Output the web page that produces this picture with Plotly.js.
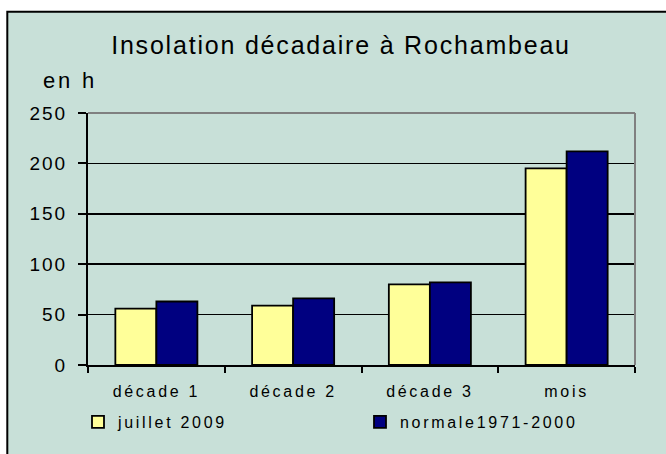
<!DOCTYPE html>
<html>
<head>
<meta charset="utf-8">
<script src="https://cdn.plot.ly/plotly-3.0.1.min.js"></script>
<style>
  html, body { margin: 0; padding: 0; background: #ffffff; }
  #chart { width: 666px; height: 454px; }
  text { letter-spacing: 2.7px; }
  text.gtitle { letter-spacing: 1.8px; }
  text.annotation-text { letter-spacing: 2.8px; }
  .ytick text { letter-spacing: 2px; }
</style>
</head>
<body>
<div id="chart"></div>
<script>
const categories = ["décade 1", "décade 2", "décade 3", "mois"];
const juillet2009 = [56, 59, 80, 195];
const normale = [63, 66, 82, 212];
const seriesNames = ["juillet 2009", "normale1971-2000"];
const yTicks = [0, 50, 100, 150, 200, 250];

const bg = "rgb(200,224,216)";
const font = "Liberation Sans, Arial, sans-serif";

const traces = [
  {
    type: "bar", name: seriesNames[0], x: categories, y: juillet2009,
    legend: "legend",
    marker: { color: "#FFFF99", line: { color: "#000000", width: 1.8 } }
  },
  {
    type: "bar", name: seriesNames[1], x: categories, y: normale,
    legend: "legend2",
    marker: { color: "#000080", line: { color: "#000000", width: 1.8 } }
  }
];

const legendCommon = {
  orientation: "h",
  xanchor: "left",
  yref: "container", y: 0.108, yanchor: "top",
  bgcolor: "rgba(0,0,0,0)",
  font: { family: font, size: 16, color: "#000000" },
  itemclick: false, itemdoubleclick: false
};

const layout = {
  width: 666, height: 454,
  margin: { l: 88, r: 31, t: 113, b: 89, pad: 0 },
  paper_bgcolor: "#ffffff",
  plot_bgcolor: bg,
  font: { family: font, color: "#000000", size: 16 },
  title: {
    text: "Insolation décadaire à Rochambeau",
    font: { family: font, size: 25, color: "#000000" },
    xref: "container", x: 341 / 666, xanchor: "center",
    yref: "container", y: 0.8996, yanchor: "middle"
  },
  barmode: "group",
  bargap: 0.4,
  bargroupgap: 0,
  xaxis: {
    type: "category",
    showline: true, linecolor: "#000000", linewidth: 2,
    ticks: "outside", tickson: "boundaries", ticklen: 6, tickwidth: 2, tickcolor: "#000000",
    ticklabelstandoff: 11,
    tickfont: { family: font, size: 16, color: "#000000" },
    showgrid: false, zeroline: false, fixedrange: true
  },
  yaxis: {
    range: [0, 250],
    tickvals: yTicks,
    showline: true, linecolor: "#000000", linewidth: 2,
    ticks: "outside", ticklen: 8, tickwidth: 2, tickcolor: "#000000",
    ticklabelstandoff: 7,
    tickfont: { family: font, size: 19, color: "#000000" },
    showgrid: true, gridcolor: "#000000", gridwidth: 1.5,
    zeroline: false, fixedrange: true
  },
  showlegend: true,
  legend: Object.assign({}, legendCommon, { xref: "container", x: 78 / 666 }),
  legend2: Object.assign({}, legendCommon, { xref: "container", x: 360 / 666 }),
  annotations: [
    {
      text: "en h", showarrow: false,
      xref: "paper", x: (41 - 88) / 547, xanchor: "left",
      yref: "paper", y: (365 - 80) / 252, yanchor: "middle",
      font: { family: font, size: 22, color: "#000000" }
    }
  ],
  shapes: [
    {
      type: "rect", layer: "below", xref: "paper", yref: "paper",
      x0: (7.3 - 88) / 547, x1: (720 - 88) / 547,
      y0: (365 - 500) / 252, y1: (365 - 11.7) / 252,
      fillcolor: bg, line: { color: "#000000", width: 2 }
    },
    {
      type: "line", layer: "above", xref: "paper", yref: "paper",
      x0: 0, x1: 1, y0: 1, y1: 1,
      line: { color: "#808080", width: 2 }
    },
    {
      type: "line", layer: "above", xref: "paper", yref: "paper",
      x0: 1, x1: 1, y0: 0, y1: 1,
      line: { color: "#808080", width: 2 }
    }
  ]
};

Plotly.newPlot("chart", traces, layout, { displayModeBar: false, staticPlot: true });
</script>
</body>
</html>
